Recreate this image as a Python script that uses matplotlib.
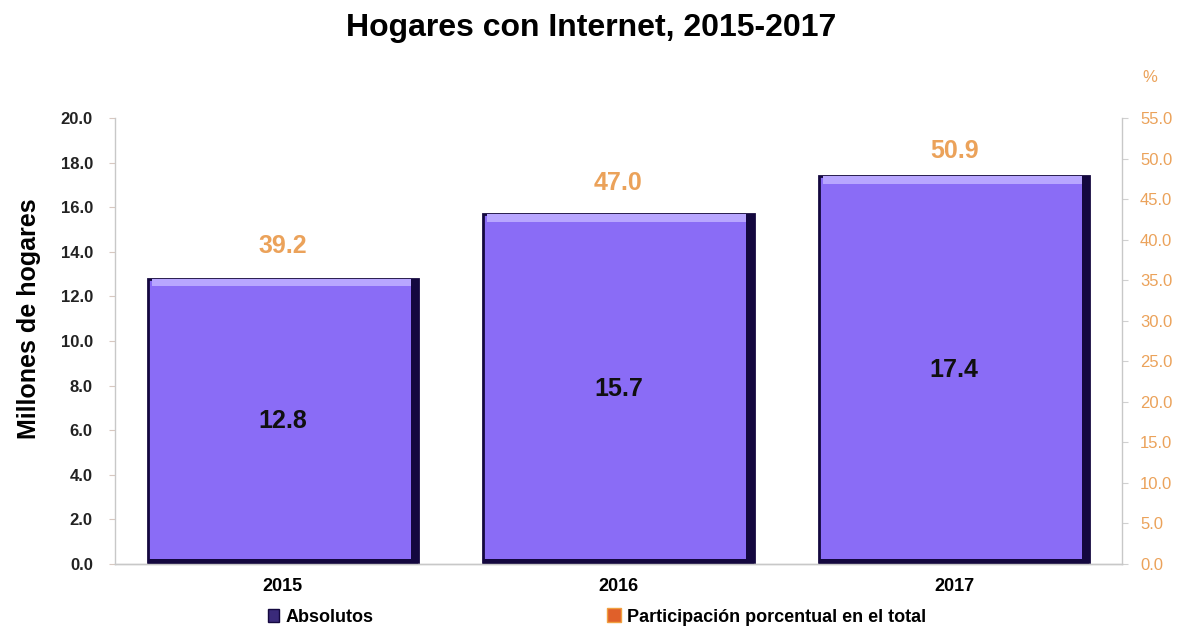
import matplotlib
matplotlib.use("Agg")
import matplotlib.pyplot as plt
from matplotlib.patches import Patch
from matplotlib.lines import Line2D

# data
years = ["2015", "2016", "2017"]
hogares = [12.8, 15.7, 17.4]          # millones de hogares
porcentaje = [39.2, 47.0, 50.9]       # participación porcentual
left_ticks = [0, 2, 4, 6, 8, 10, 12, 14, 16, 18, 20]
right_ticks = [0, 5, 10, 15, 20, 25, 30, 35, 40, 45, 50, 55]

plt.rcParams['font.family'] = ['Liberation Sans', 'DejaVu Sans']

BAR = "#8a6cf6"
DARK = "#14083f"
LIGHT = "#b8a6ff"
ORANGE = "#eba25a"

fig = plt.figure(figsize=(11.82, 6.28), dpi=100)
ax = fig.add_axes([115 / 1182, 1 - 564 / 628, 1007 / 1182, 446 / 628])
ax2 = ax.twinx()

x = list(range(len(years)))
w = 0.805
# main bars with a simple bevel look
ax.bar(x, hogares, width=w, color=BAR, edgecolor=DARK, linewidth=2, zorder=2)
ax.bar(x, [0.35] * len(x), bottom=[h - 0.35 for h in hogares], width=w * 0.97,
       color=LIGHT, linewidth=0, zorder=3)
ax.bar([i + w / 2 - 0.011 for i in x], hogares, width=0.022, color=DARK,
       linewidth=0, zorder=3)
ax.bar(x, [0.22] * len(x), width=w, color=DARK, linewidth=0, zorder=3)

for i, h in zip(x, hogares):
    ax.text(i, h / 2, f"{h:.1f}", ha="center", va="center", fontsize=18,
            fontweight="bold", color="#101010", zorder=4)

ax.set_xlim(-0.5, 2.5)
ax.set_ylim(0, 20)
ax.set_yticks(left_ticks)
ax.set_yticklabels([f"{t:.1f}" for t in left_ticks], fontsize=12,
                   fontweight="bold", color="#222222")
ax.set_xticks(x)
ax.set_xticklabels(years, fontsize=13, fontweight="bold")
ax.tick_params(axis="x", length=0, pad=10)
ax.tick_params(axis="y", length=4, color="#d8c8c0", pad=12)
ax.set_ylabel("Millones de hogares", fontsize=18, fontweight="bold")
ax.yaxis.set_label_coords(-0.073, 0.55)

ax2.set_ylim(0, 55)
ax2.set_yticks(right_ticks)
ax2.set_yticklabels([f"{t:.1f}" for t in right_ticks], fontsize=12, color=ORANGE)
ax2.tick_params(axis="y", length=4, color="#d0d0d0", pad=9)
for i, p in zip(x, porcentaje):
    ax2.text(i, p, f"{p:.1f}", ha="center", va="center", fontsize=18,
             fontweight="bold", color=ORANGE)
ax2.text(1.028, 1.09, "%", transform=ax.transAxes, ha="center", va="center",
         fontsize=12, color=ORANGE)

for a in (ax, ax2):
    a.spines["top"].set_visible(False)
    for s in ("left", "right", "bottom"):
        a.spines[s].set_color("#c8c8c8")
        a.spines[s].set_linewidth(1)
ax.spines["right"].set_visible(False)
ax2.spines["left"].set_visible(False)

fig.text(0.5, 1 - 28 / 628, "Hogares con Internet, 2015-2017", ha="center",
         va="center", fontsize=23, fontweight="bold")

handles = [Patch(facecolor="#3a2a7a", edgecolor=DARK),
           Line2D([], [], linestyle="none", marker="s", markersize=10,
                  markerfacecolor="#e0602a", markeredgecolor="#f0a040")]
fig.legend(handles, ["Absolutos", "Participación porcentual en el total"],
           loc="center", bbox_to_anchor=(0.505, 1 - 617 / 628), ncol=2,
           frameon=False, handlelength=0.6, handletextpad=0.4,
           columnspacing=13, prop={"weight": "bold", "size": 13})

fig.savefig("out.png", dpi=100, facecolor="white")
